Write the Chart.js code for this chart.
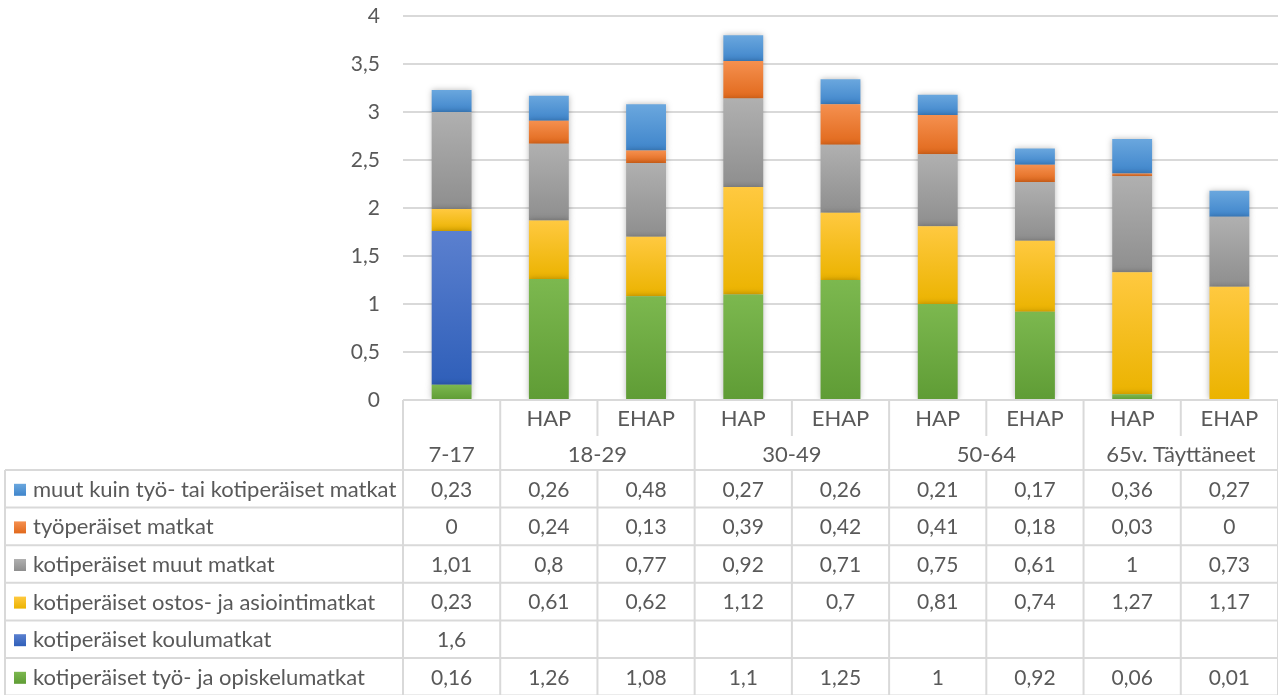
<!DOCTYPE html>
<html>
<head>
<meta charset="utf-8">
<script src="https://cdn.jsdelivr.net/npm/chart.js@4.4.0/dist/chart.umd.min.js"></script>
<style>
    html, body { margin: 0; padding: 0; background: #fff; }
    #wrap { width: 1278px; height: 695px; }
</style>
</head>
<body>
<div id="wrap"><canvas id="chart"></canvas></div>
<script>
// Categories (two header rows of the data table)
const subLabels = ['', 'HAP', 'EHAP', 'HAP', 'EHAP', 'HAP', 'EHAP', 'HAP', 'EHAP'];
const groupLabels = ['7-17', '18-29', '30-49', '50-64', '65v. Täyttäneet'];
const groupSpans = [1, 2, 2, 2, 2];
const yTicks = [0, 0.5, 1, 1.5, 2, 2.5, 3, 3.5, 4];

// Series values (stack order bottom -> top)
const tyoOpiskelu = [0.16, 1.26, 1.08, 1.1, 1.25, 1, 0.92, 0.06, 0.01];
const koulu = [1.6, null, null, null, null, null, null, null, null];
const ostos = [0.23, 0.61, 0.62, 1.12, 0.7, 0.81, 0.74, 1.27, 1.17];
const kotiMuut = [1.01, 0.8, 0.77, 0.92, 0.71, 0.75, 0.61, 1, 0.73];
const tyoperaiset = [0, 0.24, 0.13, 0.39, 0.42, 0.41, 0.18, 0.03, 0];
const muutKuin = [0.23, 0.26, 0.48, 0.27, 0.26, 0.21, 0.17, 0.36, 0.27];

const series = [
    { label: 'kotiperäiset työ- ja opiskelumatkat', data: tyoOpiskelu, top: '#7cb84f', bottom: '#5f9c35' },
    { label: 'kotiperäiset koulumatkat', data: koulu, top: '#5b80cf', bottom: '#2f5fb9' },
    { label: 'kotiperäiset ostos- ja asiointimatkat', data: ostos, top: '#ffc940', bottom: '#ebb300' },
    { label: 'kotiperäiset muut matkat', data: kotiMuut, top: '#b0b0b0', bottom: '#8e8e8e' },
    { label: 'työperäiset matkat', data: tyoperaiset, top: '#f5904f', bottom: '#e1691c' },
    { label: 'muut kuin työ- tai kotiperäiset matkat', data: muutKuin, top: '#6aa7de', bottom: '#3f85cb' }
];

const FONT = 'Lato, "Open Sans", sans-serif';
const TEXT = '#595959';
const LINE = '#d9d9d9';

function fmt(v) {
    return String(v).replace('.', ',');
}

// vertical gradient per stacked segment
function segmentFill(ctx, s) {
    const chart = ctx.chart;
    const y = chart.scales.y;
    if (!y || ctx.raw == null) return s.top;
    let base = 0;
    for (let d = 0; d < ctx.datasetIndex; d++) {
        base += series[d].data[ctx.dataIndex] || 0;
    }
    const yTop = y.getPixelForValue(base + ctx.raw);
    const yBot = y.getPixelForValue(base);
    if (!isFinite(yTop) || !isFinite(yBot) || yTop === yBot) return s.top;
    const g = chart.ctx.createLinearGradient(0, yTop, 0, yBot);
    g.addColorStop(0, s.top);
    g.addColorStop(1, s.bottom);
    return g;
}

const shadowPlugin = {
    id: 'barShadow',
    beforeDatasetsDraw(chart) {
        const c = chart.ctx;
        c.save();
        c.shadowColor = 'rgba(0,0,0,0.28)';
        c.shadowBlur = 6;
    },
    afterDatasetsDraw(chart) {
        chart.ctx.restore();
    }
};

const tablePlugin = {
    id: 'dataTable',
    afterDraw(chart) {
        const c = chart.ctx;
        const x = chart.scales.x;
        const area = chart.chartArea;
        const n = subLabels.length;
        const colW = (x.right - x.left) / n;
        const edges = [];
        for (let i = 0; i <= n; i++) edges.push(x.left + i * colW);
        const tableLeft = 5;
        const right = edges[n];
        const top = area.bottom;
        const subBottom = top + 36;
        const headBottom = top + 70;
        const rowH = 37.6;
        const rows = series.slice().reverse();

        c.save();
        c.strokeStyle = LINE;
        c.lineWidth = 2;
        function line(x1, y1, x2, y2) {
            c.beginPath();
            c.moveTo(x1, y1);
            c.lineTo(x2, y2);
            c.stroke();
        }
        // horizontal lines
        line(edges[0], top, right, top);
        for (let r = 0; r <= rows.length; r++) {
            const yy = headBottom + r * rowH;
            line(tableLeft, yy, right, yy);
        }
        // vertical lines
        line(tableLeft, headBottom, tableLeft, 700);
        let col = 0;
        const groupEdges = new Set([0]);
        groupSpans.forEach(sp => { col += sp; groupEdges.add(col); });
        for (let i = 0; i <= n; i++) {
            if (groupEdges.has(i)) {
                line(edges[i], top, edges[i], 700);
            } else {
                line(edges[i], top, edges[i], subBottom);
                line(edges[i], headBottom, edges[i], 700);
            }
        }

        // header text
        c.fillStyle = TEXT;
        c.font = '22px ' + FONT;
        c.textAlign = 'center';
        c.textBaseline = 'middle';
        for (let i = 0; i < n; i++) {
            c.fillText(subLabels[i], (edges[i] + edges[i + 1]) / 2, top + 19);
        }
        col = 0;
        groupLabels.forEach((g, k) => {
            const a = edges[col], b = edges[col + groupSpans[k]];
            c.fillText(g, (a + b) / 2, top + 55);
            col += groupSpans[k];
        });

        // data rows
        rows.forEach((s, r) => {
            const cy = headBottom + r * rowH + rowH / 2 + 1;
            const grad = c.createLinearGradient(0, cy - 6, 0, cy + 6);
            grad.addColorStop(0, s.top);
            grad.addColorStop(1, s.bottom);
            c.fillStyle = grad;
            c.fillRect(14, cy - 6, 12, 12);
            c.fillStyle = TEXT;
            c.textAlign = 'left';
            c.font = '22px ' + FONT;
            c.fillText(s.label, 33, cy);
            c.textAlign = 'center';
            c.font = '21px ' + FONT;
            for (let i = 0; i < n; i++) {
                const v = s.data[i];
                if (v == null) continue;
                c.fillText(fmt(v), (edges[i] + edges[i + 1]) / 2, cy);
            }
        });
        c.restore();
    }
};

new Chart(document.getElementById('chart'), {
    type: 'bar',
    data: {
        labels: subLabels.map((s, i) => i),
        datasets: series.map(s => ({
            label: s.label,
            data: s.data,
            backgroundColor: ctx => segmentFill(ctx, s),
            borderWidth: 0,
            barPercentage: 0.41,
            categoryPercentage: 1
        }))
    },
    options: {
        responsive: true,
        maintainAspectRatio: false,
        animation: false,
        layout: { padding: { top: 16, bottom: 295, right: 0, left: 0 } },
        plugins: {
            legend: { display: false },
            tooltip: { enabled: false }
        },
        scales: {
            x: {
                stacked: true,
                display: false
            },
            y: {
                stacked: true,
                min: 0,
                max: 4,
                afterFit: function(scale) { scale.width = 403; },
                afterBuildTicks: function(scale) {
                    scale.ticks = yTicks.map(v => ({ value: v }));
                },
                border: { display: false },
                grid: { color: LINE, lineWidth: 2, drawTicks: true, tickLength: 23, tickColor: 'rgba(0,0,0,0)' },
                ticks: {
                    padding: 0,
                    color: TEXT,
                    font: { family: FONT, size: 21 },
                    callback: v => fmt(v)
                }
            }
        }
    },
    plugins: [shadowPlugin, tablePlugin]
});
</script>
</body>
</html>
